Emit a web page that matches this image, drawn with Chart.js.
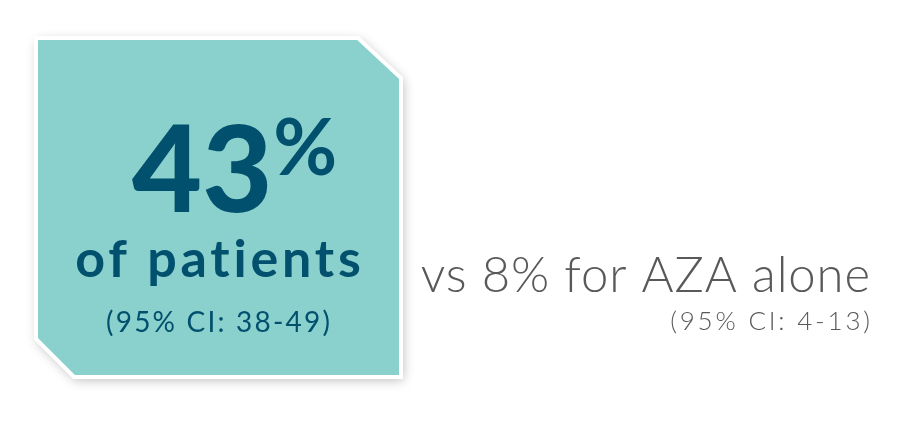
<!DOCTYPE html>
<html>
<head>
<meta charset="utf-8">
<script src="https://cdn.jsdelivr.net/npm/chart.js@4.4.1/dist/chart.umd.min.js"></script>
<style>
  html, body { margin: 0; padding: 0; background: #fff; }
  #wrap { width: 899px; height: 421px; }
</style>
</head>
<body>
<div id="wrap"><canvas id="stat"></canvas></div>
<script>
const groups = ["combination", "AZA alone"];
const rates = [43, 8];
const ciLow = [38, 4];
const ciHigh = [49, 13];
const captions = ["of patients", "vs 8% for AZA alone"];

const TEAL = "#8ad1cd";
const NAVY = "#00506e";
const GREY = "#58595b";

// text with tracking; trailing spacing compensated for center/right
function spaced(ctx, str, x, y, sp, align) {
  ctx.letterSpacing = sp + "px";
  ctx.textAlign = align;
  const dx = align === "right" ? sp : align === "center" ? sp / 2 : 0;
  ctx.fillText(str, x + dx, y);
  ctx.letterSpacing = "0px";
}

// draws the callout box and the two statements
const calloutPlugin = {
  id: "callout",
  afterDraw(chart) {
    const ctx = chart.ctx;
    ctx.save();

    // box with clipped corners
    const L = 36, T = 38, R = 401, B = 377, cutTR = 40, cutBL = 38;
    const box = () => {
      ctx.beginPath();
      ctx.moveTo(L, T);
      ctx.lineTo(R - cutTR - 3, T);
      ctx.lineTo(R, T + cutTR);
      ctx.lineTo(R, B);
      ctx.lineTo(L + cutBL, B);
      ctx.lineTo(L, B - cutBL);
      ctx.closePath();
    };
    ctx.shadowColor = "rgba(0,0,0,0.28)";
    ctx.shadowBlur = 12;
    ctx.shadowOffsetX = 2;
    ctx.shadowOffsetY = 3;
    box();
    ctx.fillStyle = TEAL;
    ctx.fill();
    ctx.shadowColor = "transparent";
    ctx.lineWidth = 4;
    ctx.strokeStyle = "#fff";
    ctx.lineJoin = "miter";
    ctx.stroke();

    // big number
    ctx.fillStyle = NAVY;
    ctx.textBaseline = "alphabetic";
    ctx.textAlign = "left";
    ctx.font = "900 121px Lato";
    const big = String(rates[0]);
    ctx.fillText(big, 132, 212);
    const w = ctx.measureText(big).width;
    ctx.font = "700 78px Lato";
    ctx.fillText("%", 132 + w + 1, 175);

    ctx.font = "700 52px Lato";
    spaced(ctx, captions[0], 218, 277, 3.8, "center");
    ctx.font = "400 28px Lato";
    spaced(ctx, `(95% CI: ${ciLow[0]}-${ciHigh[0]})`, 218, 332, 2.2, "center");

    // comparator
    ctx.fillStyle = GREY;
    ctx.font = "300 49px Lato";
    spaced(ctx, captions[1], 870, 292, 0.9, "right");
    ctx.font = "300 26px Lato";
    spaced(ctx, `(95% CI: ${ciLow[1]}-${ciHigh[1]})`, 870, 330, 2.8, "right");

    ctx.restore();
  },
};

new Chart(document.getElementById("stat"), {
  type: "bar",
  data: {
    labels: groups,
    datasets: [{ data: rates, backgroundColor: "transparent", borderWidth: 0 }],
  },
  options: {
    responsive: true,
    maintainAspectRatio: false,
    animation: false,
    devicePixelRatio: 1,
    events: [],
    scales: { x: { display: false }, y: { display: false, min: 0, max: 100 } },
    plugins: { legend: { display: false }, tooltip: { enabled: false } },
  },
  plugins: [calloutPlugin],
});
</script>
</body>
</html>
